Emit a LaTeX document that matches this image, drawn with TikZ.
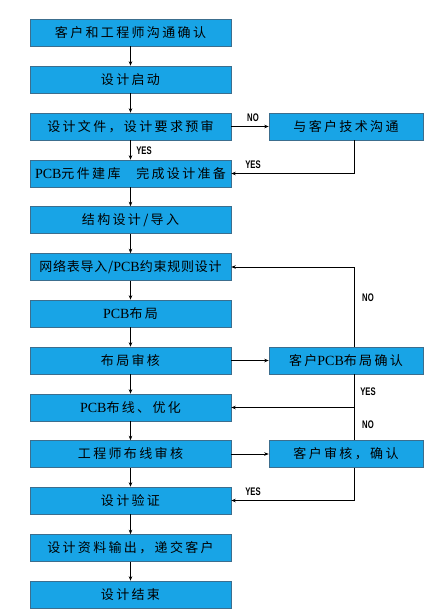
\documentclass[tikz,border=0pt]{standalone}
\usepackage{fontspec}
\setmainfont{Liberation Serif}
\newfontfamily\cjk[LetterSpace=18]{Noto Sans CJK SC}
\newfontfamily\cjktight[LetterSpace=6]{Noto Sans CJK SC}
\newfontfamily\lblfont[FakeStretch=0.7]{Liberation Sans}
\newcommand{\latn}[1]{{\rmfamily\fontsize{14}{15}\selectfont #1}}
\usetikzlibrary{arrows.meta}
\definecolor{boxfill}{HTML}{18A4E6}
\definecolor{boxline}{HTML}{3C6E8E}
\begin{document}
\begin{tikzpicture}[x=1pt,y=-1pt,
  stepbox/.style={draw=boxline,line width=0.6pt,fill=boxfill,minimum width=201pt,minimum height=27pt,inner sep=0pt,font=\fontsize{13}{15}\selectfont\cjk},
  sidebox/.style={stepbox,minimum width=154pt},
  conn/.style={line width=0.6pt,-{Stealth[length=4.5pt,width=3.5pt]}},
  lbl/.style={font=\fontsize{11}{12}\selectfont\lblfont\bfseries,inner sep=1pt}]
\useasboundingbox (0,0) rectangle (426,614);
\node[stepbox] (b1) at (130.5,32.5) {客户和工程师沟通确认};
\node[stepbox] (b2) at (130.5,79.5) {设计启动};
\node[stepbox] (b3) at (130.5,126.5) {设计文件，设计要求预审};
\node[stepbox] (b4) at (130.5,173.5) {\latn{PCB}元件建库\ \ \ 完成设计准备};
\node[stepbox] (b5) at (130.5,220) {结构设计/导入};
\node[stepbox,font=\fontsize{13}{15}\selectfont\cjktight] (b6) at (130.5,267) {网络表导入/\latn{PCB}约束规则设计};
\node[stepbox] (b7) at (130.5,313.5) {\latn{PCB}布局};
\node[stepbox] (b8) at (130.5,360.5) {布局审核};
\node[stepbox] (b9) at (130.5,407.5) {\latn{PCB}布线、优化};
\node[stepbox] (b10) at (130.5,454) {工程师布线审核};
\node[stepbox] (b11) at (130.5,500.5) {设计验证};
\node[stepbox] (b12) at (130.5,548) {设计资料输出，递交客户};
\node[stepbox] (b13) at (130.5,594.5) {设计结束};
\node[sidebox] (r1) at (346,126.5) {与客户技术沟通};
\node[sidebox] (r2) at (346,360.5) {客户\latn{PCB}布局确认};
\node[sidebox] (r3) at (346,454) {客户审核，确认};
\foreach \a/\b in {b1/b2,b2/b3,b3/b4,b4/b5,b5/b6,b6/b7,b7/b8,b8/b9,b9/b10,b10/b11,b11/b12,b12/b13}
  \draw[conn] (\a) -- (\b);
\draw[conn] (b3) -- (r1);
\draw[conn] (b8) -- (r2);
\draw[conn] (b10) -- (r3);
\coordinate (k1) at (354,173.5);
\coordinate (k2) at (354,267);
\coordinate (k3) at (354,407.5);
\coordinate (k4) at (354,500.5);
\draw[conn] (r1.south -| k1) -- (k1) -- (b4.east);
\draw[conn] (r2.north -| k2) -- (k2) -- (b6.east);
\draw[conn] (r2.south -| k3) -- (k3) -- (b9.east);
\draw[line width=0.6pt] (r3.north -| k3) -- (k3);
\draw[conn] (r3.south -| k4) -- (k4) -- (b11.east);
\node[lbl] (n1) at (253,118) {NO};
\node[lbl] (y1) at (144,151) {YES};
\node[lbl] (y2) at (253,165) {YES};
\node[lbl] (n2) at (368,298) {NO};
\node[lbl] (y3) at (368,392) {YES};
\node[lbl] (n3) at (368,425) {NO};
\node[lbl] (y4) at (253,492) {YES};
\end{tikzpicture}
\end{document}
